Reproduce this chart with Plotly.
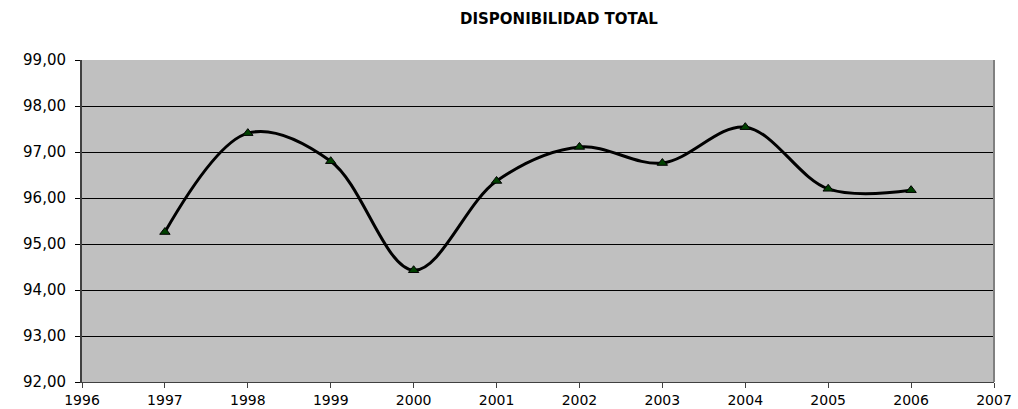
import plotly.graph_objects as go

years = [1997, 1998, 1999, 2000, 2001, 2002, 2003, 2004, 2005, 2006]
disponibilidad = [95.26, 97.41, 96.80, 94.43, 96.37, 97.11, 96.76, 97.54, 96.20, 96.17]
y_ticks = [92, 93, 94, 95, 96, 97, 98, 99]
x_ticks = list(range(1996, 2008))

fig = go.Figure()
fig.add_trace(go.Scatter(
    x=years, y=disponibilidad, mode="lines+markers",
    line=dict(color="black", width=3, shape="spline", smoothing=1.0),
    marker=dict(symbol="triangle-up", size=9, color="#004000",
                line=dict(color="black", width=1)),
    showlegend=False,
))

fig.update_layout(
    width=1018, height=409,
    margin=dict(l=82, r=24, t=60, b=27),
    plot_bgcolor="#C0C0C0", paper_bgcolor="white",
    separators=",.",
    font=dict(family="DejaVu Sans", size=15, color="black"),
    annotations=[dict(text="<b>DISPONIBILIDAD TOTAL</b>",
                      xref="paper", yref="paper",
                      x=(559 - 82) / (994 - 82), y=1 + (60 - 19) / 322,
                      showarrow=False, xanchor="center", yanchor="middle",
                      font=dict(family="DejaVu Sans", size=15))],
)
fig.update_xaxes(range=[1996, 2007], tickvals=x_ticks, ticks="outside",
                 ticklen=5, tickcolor="#404040", showgrid=False,
                 showline=True, linecolor="#404040", linewidth=1,
                 zeroline=False, ticklabelstandoff=0, automargin=False,
                 tickfont=dict(size=14))
fig.update_yaxes(range=[92, 99], tickvals=y_ticks, tickformat=".2f",
                 ticks="outside", ticklen=5, tickcolor="black",
                 showgrid=True, gridcolor="black", gridwidth=1,
                 showline=True, linecolor="#404040", linewidth=2,
                 zeroline=False, ticklabelstandoff=6, automargin=False)
fig.add_shape(type="line", xref="x domain", yref="y domain", x0=1, x1=1, y0=0, y1=1,
              line=dict(color="#808080", width=2))

fig.write_html("out.html")
